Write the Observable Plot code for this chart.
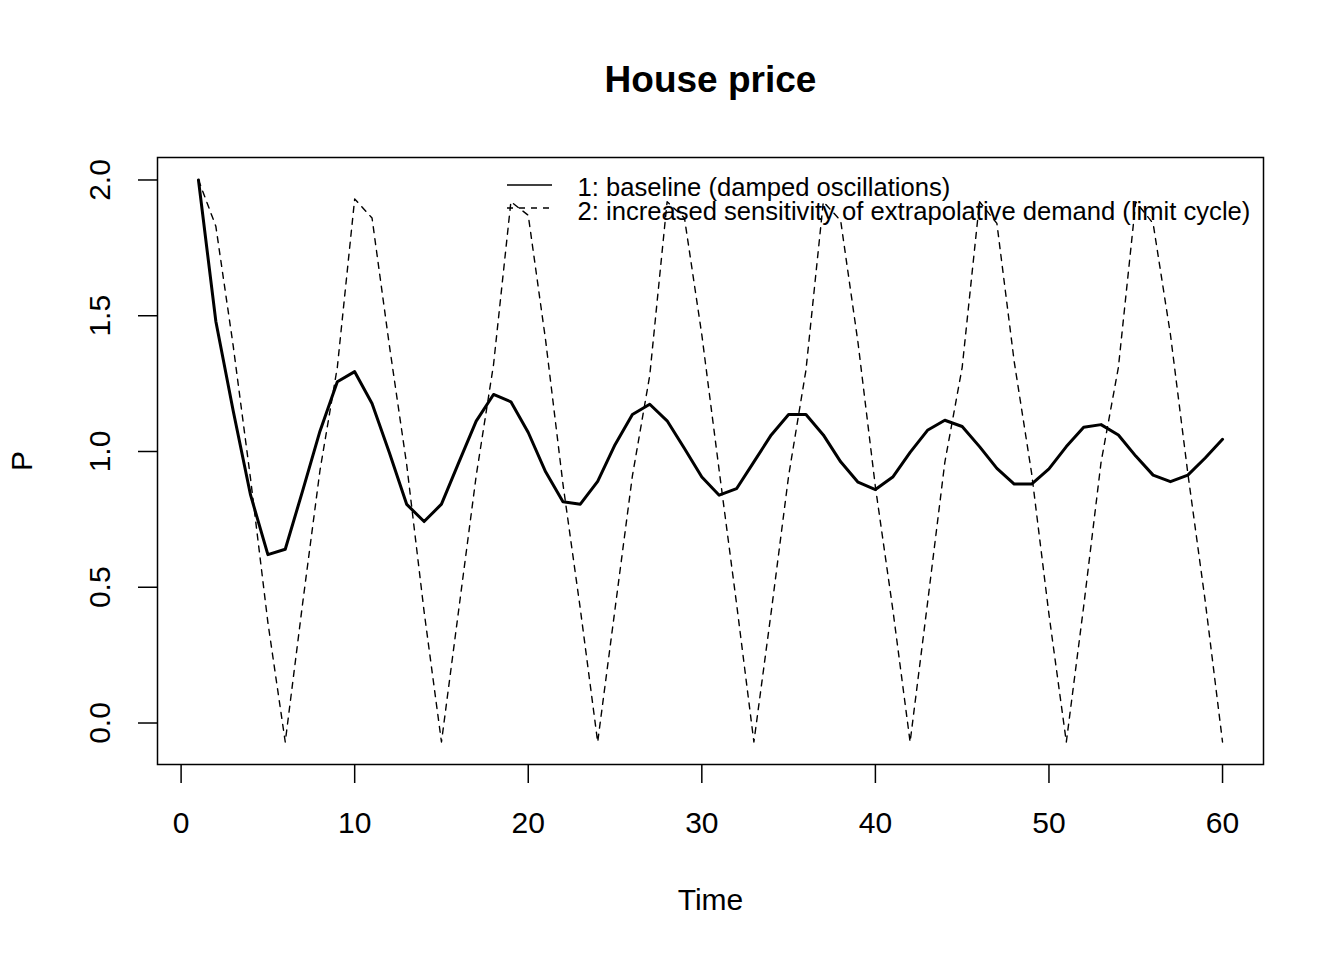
<!DOCTYPE html>
<html><head><meta charset="utf-8">
<script src="https://cdn.jsdelivr.net/npm/d3@7"></script>
<script src="https://cdn.jsdelivr.net/npm/@observablehq/plot@0.6"></script>
<style>body{margin:0;background:#fff}</style>
</head><body><div id="chart"></div>
<script>
const time = [1,2,3,4,5,6,7,8,9,10,11,12,13,14,15,16,17,18,19,20,21,22,23,24,25,26,27,28,29,30,
  31,32,33,34,35,36,37,38,39,40,41,42,43,44,45,46,47,48,49,50,51,52,53,54,55,56,57,58,59,60];
const baseline = [2.00,1.48,1.15,0.84,0.62,0.64,0.855,1.075,1.257,1.294,
  1.177,0.995,0.805,0.742,0.806,0.96,1.112,1.21,1.183,1.07,
  0.925,0.815,0.806,0.89,1.025,1.136,1.174,1.113,1.011,0.906,
  0.839,0.863,0.962,1.061,1.136,1.136,1.061,0.962,0.887,0.86,
  0.906,0.997,1.078,1.115,1.092,1.018,0.938,0.88,0.88,0.936,
  1.018,1.089,1.099,1.061,0.983,0.913,0.889,0.913,0.976,1.045];
const limitCycle = [2.00,1.83,1.39,0.90,0.37,-0.07,0.44,0.93,1.31,1.93,
  1.86,1.39,0.95,0.41,-0.07,0.42,0.91,1.32,1.92,1.87,
  1.41,0.88,0.42,-0.07,0.42,0.91,1.28,1.92,1.86,1.43,
  0.93,0.44,-0.07,0.41,0.91,1.30,1.92,1.85,1.40,0.87,
  0.42,-0.07,0.44,0.96,1.31,1.92,1.84,1.33,0.92,0.40,
  -0.07,0.43,0.96,1.31,1.92,1.84,1.43,0.92,0.45,-0.07];
const xTicks = [0,10,20,30,40,50,60];
const yTicks = [0,0.5,1,1.5,2];
const yTickLabels = ["0.0","0.5","1.0","1.5","2.0"];
const title = "House price";
const xLabel = "Time";
const yLabel = "P";
const legendLabels = ["1: baseline (damped oscillations)",
  "2: increased sensitivity of extrapolative demand (limit cycle)"];

const rows1 = time.map((t, i) => ({t, p: baseline[i]}));
const rows2 = time.map((t, i) => ({t, p: limitCycle[i]}));
const pad = e => { const d = (e[1] - e[0]) * 0.04; return [e[0] - d, e[1] + d]; };
const xDomain = pad(d3.extent(time));
const yDomain = pad(d3.extent(baseline.concat(limitCycle)));

const font = "'Liberation Sans', Arial, Helvetica, sans-serif";

const legendLines = (index, scales, values, dims) => {
  const g = d3.create("svg:g");
  const x0 = dims.marginLeft + 350, x1 = dims.marginLeft + 395;
  g.append("line").attr("x1", x0).attr("x2", x1)
    .attr("y1", dims.marginTop + 28).attr("y2", dims.marginTop + 28)
    .attr("stroke", "black").attr("stroke-width", 1.5);
  g.append("line").attr("x1", x0).attr("x2", x1)
    .attr("y1", dims.marginTop + 51).attr("y2", dims.marginTop + 51)
    .attr("stroke", "black").attr("stroke-width", 1.5)
    .attr("stroke-dasharray", "6,6");
  return g.node();
};

const chart = Plot.plot({
  width: 1344, height: 960,
  marginLeft: 157, marginRight: 81, marginTop: 157, marginBottom: 196,
  style: {fontFamily: font, background: "white", color: "black"},
  x: {domain: xDomain, label: null},
  y: {domain: yDomain, label: null},
  marks: [
    Plot.frame({stroke: "black", strokeWidth: 1.5}),
    Plot.axisX({ticks: xTicks, tickSize: 19, tickFormat: () => "", strokeWidth: 1.5, stroke: "black", label: null}),
    Plot.axisY({ticks: yTicks, tickSize: 19, tickFormat: () => "", strokeWidth: 1.5, stroke: "black", label: null}),
    Plot.text(xTicks, {x: d => d, text: d => String(d), frameAnchor: "bottom", dy: 59,
      fontSize: 30, lineAnchor: "middle", fill: "black"}),
    Plot.text(yTicks, {y: d => d, text: (d, i) => yTickLabels[i], frameAnchor: "left", dx: -57,
      rotate: -90, fontSize: 30, textAnchor: "middle", lineAnchor: "middle", fill: "black"}),
    Plot.text([title], {text: d => d, frameAnchor: "top", dy: -77, fontSize: 37,
      fontWeight: "bold", lineAnchor: "middle", fill: "black"}),
    Plot.text([xLabel], {text: d => d, frameAnchor: "bottom", dy: 136, fontSize: 30,
      lineAnchor: "middle", fill: "black"}),
    Plot.text([yLabel], {text: d => d, frameAnchor: "left", dx: -135, rotate: -90, fontSize: 30,
      lineAnchor: "middle", textAnchor: "middle", fill: "black"}),
    Plot.line(rows2, {x: "t", y: "p", stroke: "black", strokeWidth: 1.4, strokeDasharray: "6,6"}),
    Plot.line(rows1, {x: "t", y: "p", stroke: "black", strokeWidth: 3, strokeLinejoin: "round"}),
    Plot.text([legendLabels[0]], {text: d => d, frameAnchor: "top-left", dx: 420, dy: 30,
      fontSize: 25.6, textAnchor: "start", lineAnchor: "middle", fill: "black"}),
    Plot.text([legendLabels[1]], {text: d => d, frameAnchor: "top-left", dx: 420, dy: 54,
      fontSize: 25.6, textAnchor: "start", lineAnchor: "middle", fill: "black"}),
    legendLines
  ]
});
document.getElementById("chart").append(chart);
</script>
</body></html>
